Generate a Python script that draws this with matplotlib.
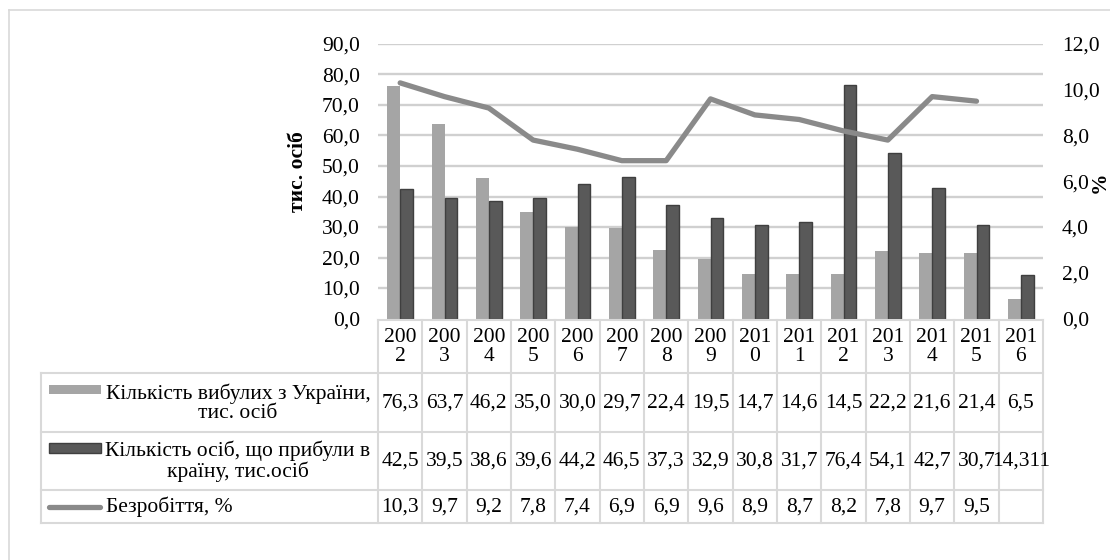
import matplotlib
matplotlib.use("Agg")
import matplotlib.pyplot as plt
import numpy as np
from matplotlib.lines import Line2D
from matplotlib.patches import Rectangle

years = ["2002", "2003", "2004", "2005", "2006", "2007", "2008", "2009",
         "2010", "2011", "2012", "2013", "2014", "2015", "2016"]
emigrated = [76.3, 63.7, 46.2, 35.0, 30.0, 29.7, 22.4, 19.5, 14.7, 14.6, 14.5, 22.2, 21.6, 21.4, 6.5]
arrived = [42.5, 39.5, 38.6, 39.6, 44.2, 46.5, 37.3, 32.9, 30.8, 31.7, 76.4, 54.1, 42.7, 30.7, 14.311]
unemployment = [10.3, 9.7, 9.2, 7.8, 7.4, 6.9, 6.9, 9.6, 8.9, 8.7, 8.2, 7.8, 9.7, 9.5, None]

series_names = ["Кількість вибулих з України,\nтис. осіб",
                "Кількість осіб, що прибули в\nкраїну, тис.осіб",
                "Безробіття, %"]
left_ticks = [0, 10, 20, 30, 40, 50, 60, 70, 80, 90]
right_ticks = [0, 2, 4, 6, 8, 10, 12]

W, H = 1110, 560
FONT = "Liberation Serif"
FS = 15.5
C_LIGHT = "#a5a5a5"
C_DARK = "#595959"
C_DARK_EDGE = "#3f3f3f"
C_LINE = "#8a8a8a"
C_GRID = "#d9d9d9"
C_GRIDLINE = "#d0d0d0"

plt.rcParams["font.family"] = [FONT, "DejaVu Serif"]

fig = plt.figure(figsize=(W / 100, H / 100), dpi=100)


def fx(px):
    return px / W


def fy(py):
    return 1 - py / H


fig.add_artist(Line2D([fx(9), fx(1110)], [fy(10), fy(10)], transform=fig.transFigure,
                      color=C_GRID, lw=1.2))
fig.add_artist(Line2D([fx(9), fx(9)], [fy(10), fy(560)], transform=fig.transFigure,
                      color=C_GRID, lw=1.2))

L, R, T, B = 378, 1043, 44, 318.5
ax = fig.add_axes([fx(L), fy(B), fx(R) - fx(L), fy(T) - fy(B)])
n = len(years)
x = np.arange(n)
bw = 0.29
ax.hlines(left_ticks[1:], -0.5, n - 0.5, colors=C_GRIDLINE, lw=1.7, zorder=2)
ax.bar(x - bw / 2, emigrated, width=bw, color=C_LIGHT, zorder=3)
ax.bar(x + bw / 2, arrived, width=bw, color=C_DARK, edgecolor=C_DARK_EDGE, lw=1, zorder=3)
ax.set_xlim(-0.5, n - 0.5)
ax.set_ylim(0, 90)
ax.set_yticks(left_ticks)
ax.set_yticklabels([f"{v:.1f}".replace(".", ",") for v in left_ticks], fontsize=FS)
ax.tick_params(axis="y", length=0, pad=13)
ax.set_xticks([])
for s in ax.spines.values():
    s.set_visible(False)

ax2 = ax.twinx()
ux = [i for i, v in enumerate(unemployment) if v is not None]
uy = [v for v in unemployment if v is not None]
ax2.plot(ux, uy, color=C_LINE, lw=3.8, solid_capstyle="round", solid_joinstyle="round", zorder=4)
ax2.set_ylim(0, 12)
ax2.set_yticks(right_ticks)
ax2.set_yticklabels([f"{v:.1f}".replace(".", ",") for v in right_ticks], fontsize=FS)
ax2.tick_params(axis="y", length=0, pad=13.5)
for s in ax2.spines.values():
    s.set_visible(False)

fig.text(fx(298), fy(172), "тис. осіб", rotation=90, ha="center", va="center",
         fontsize=FS, fontweight="bold")
fig.text(fx(1110), fy(182), "%", rotation=90, ha="right", va="center",
         fontsize=FS, fontweight="bold")

col_w = (R - L) / n
rows_y = [320, 373, 432, 490, 523]
LEFT_T = 41


def hline(y, x0, x1):
    fig.add_artist(Line2D([fx(x0), fx(x1)], [fy(y), fy(y)], transform=fig.transFigure,
                          color=C_GRID, lw=1.5))


def vline(xp, y0, y1):
    fig.add_artist(Line2D([fx(xp), fx(xp)], [fy(y0), fy(y1)], transform=fig.transFigure,
                          color=C_GRID, lw=1.5))


hline(rows_y[0], L, R)
for yy in rows_y[1:]:
    hline(yy, LEFT_T, R)
vline(LEFT_T, rows_y[1], rows_y[-1])
for i in range(n + 1):
    vline(L + i * col_w, rows_y[0], rows_y[-1])

for i, yr in enumerate(years):
    cx = L + (i + 0.5) * col_w
    fig.text(fx(cx), fy(347), yr[:3] + "\n" + yr[3:], ha="center", va="center",
             fontsize=FS, linespacing=1.05)


def fmt(v):
    return "" if v is None else str(v).replace(".", ",")


data_rows = [emigrated, arrived, unemployment]
row_centers = [403, 461, 507]
for vals, cy in zip(data_rows, row_centers):
    for i, v in enumerate(vals):
        cx = L + (i + 0.5) * col_w
        fig.text(fx(cx), fy(cy), fmt(v), ha="center", va="center", fontsize=FS)

fig.add_artist(Rectangle((fx(49), fy(394)), fx(101) - fx(49), fy(385) - fy(394),
                         transform=fig.transFigure, facecolor=C_LIGHT, edgecolor="none"))
fig.add_artist(Rectangle((fx(49), fy(453)), fx(101) - fx(49), fy(443) - fy(453),
                         transform=fig.transFigure, facecolor=C_DARK, edgecolor=C_DARK_EDGE, lw=1))
fig.add_artist(Line2D([fx(49), fx(100)], [fy(507), fy(507)], transform=fig.transFigure,
                      color=C_LINE, lw=3.8, solid_capstyle="round"))

fig.text(fx(238), fy(403), series_names[0], ha="center", va="center", fontsize=FS,
         multialignment="center", linespacing=1.0)
fig.text(fx(238), fy(461), series_names[1], ha="center", va="center", fontsize=FS,
         multialignment="center", linespacing=1.0)
fig.text(fx(106), fy(507), series_names[2], ha="left", va="center", fontsize=FS)

fig.savefig("out.png", dpi=100)
